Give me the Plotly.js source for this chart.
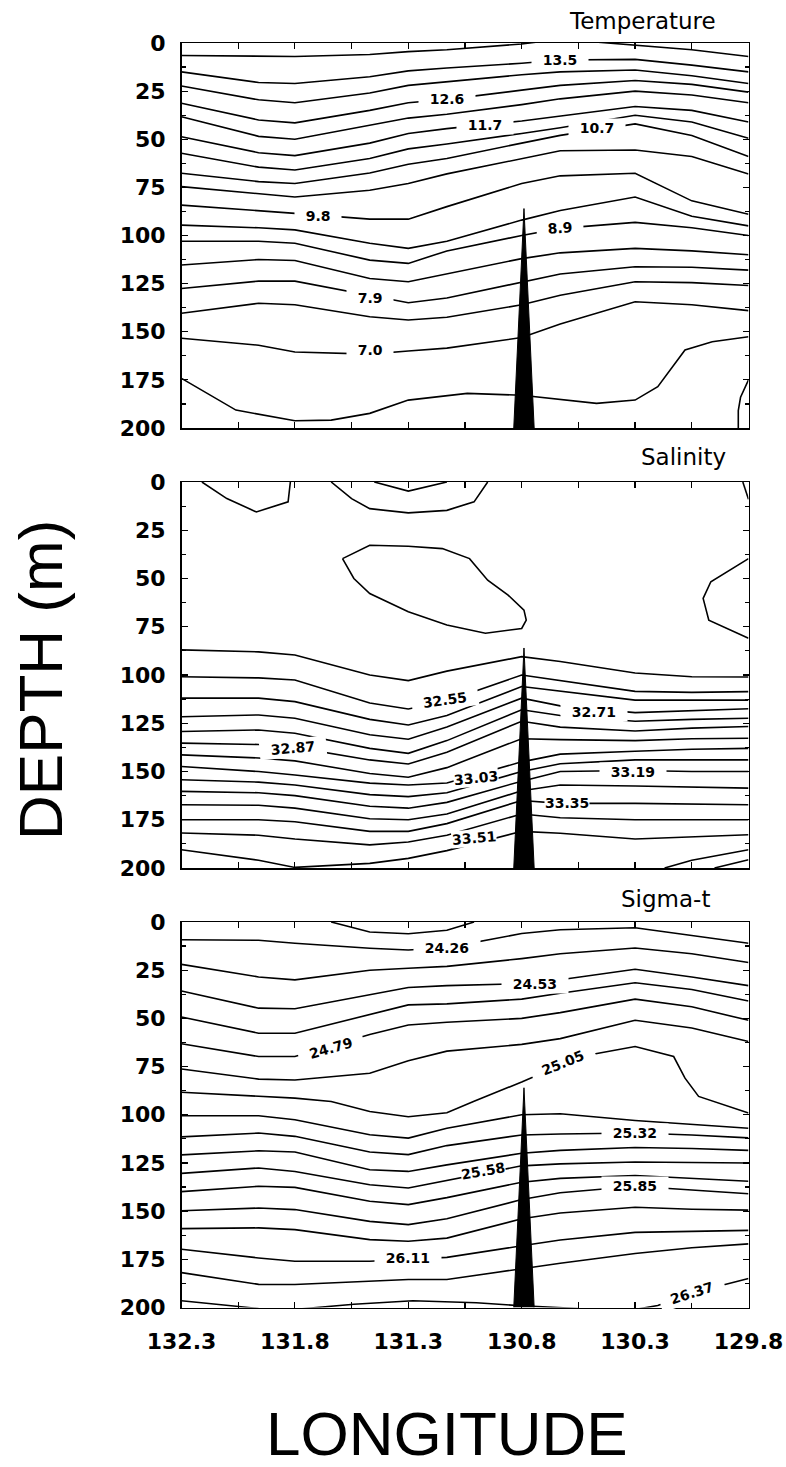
<!DOCTYPE html>
<html><head><meta charset="utf-8">
<script src="https://cdn.plot.ly/plotly-3.0.1.min.js"></script>
<style>html,body{margin:0;padding:0;background:#fff}#chart{width:786px;height:1467px}</style>
</head><body><div id="chart"></div>
<script>
// ---------- station longitudes (x of every contour row) ----------
const stations = [132.3, 131.96, 131.8, 131.47, 131.3, 131.13, 130.8, 130.63, 130.3, 130.05, 129.8];
const lonTicks = [132.3, 131.8, 131.3, 130.8, 130.3, 129.8];
const lonTickText = ['132.3', '131.8', '131.3', '130.8', '130.3', '129.8'];
const depthTicks = [0, 25, 50, 75, 100, 125, 150, 175, 200];

// ---------- Temperature: depth (m) of each isotherm at the stations ----------
const tempRows = [
  [6.5, 7, 7, 6, 4.5, 3.5, 0.5, -2, 1.2, 3.5, 7],
  [15, 20.5, 21, 17.5, 14.5, 13, 10.5, 8.8, 8.5, 11.5, 15],
  [22.3, 29.5, 31, 26, 22, 20, 16.5, 15, 14, 17, 21],
  [31.3, 40, 41.5, 35, 31, 29.3, 24.5, 22, 19.5, 21.5, 25.5],
  [38.3, 48.5, 50, 43, 39, 37, 32, 29, 25, 27, 31],
  [48.7, 57, 58.5, 52, 47, 44.5, 40.5, 38, 33, 35, 41],
  [57.3, 64.5, 66, 60, 55, 52.5, 47, 44, 37.5, 41, 49.5],
  [67.7, 72, 73, 67.5, 63, 60, 52, 48, 42, 48, 59],
  [74.6, 78.5, 80, 76.5, 73, 68, 60, 56, 55.6, 59, 68],
  [84.2, 87, 88.5, 91.5, 91.5, 85, 73, 69, 67.7, 82, 89],
  [94.6, 96, 97.1, 104, 106.7, 103, 92, 87, 80, 90, 95],
  [103, 103, 104, 112.8, 114.5, 108, 100, 96.3, 93.2, 96, 100],
  [115.3, 112.5, 113, 122.3, 124, 120, 112, 109, 106.7, 108, 110],
  [127.5, 123.7, 123.7, 131, 134.9, 132.5, 124, 120, 116.2, 116.5, 118],
  [140.4, 135.2, 136, 142.2, 143.9, 142.5, 136, 131, 124, 124.5, 126],
  [153.4, 157, 160.5, 161.6, 160, 158.5, 153, 146, 134.4, 136, 139]
];
const tempDeepLon = [132.3, 132.06, 131.8, 131.64, 131.47, 131.3, 131.04, 130.8, 130.47, 130.3, 130.2, 130.08, 129.96, 129.8];
const tempDeepDepth = [174.2, 190.7, 196.2, 195.9, 192.4, 185.5, 182, 183, 187.2, 185.5, 178.5, 159.5, 155.2, 152.6];
const tempCornerLon = [129.8, 129.835, 129.845, 129.845];
const tempCornerDepth = [175, 184, 191, 200];
const tempLabelText = ['13.5', '12.6', '11.7', '10.7', '9.8', '8.9', '7.9', '7.0'];
const tempLabelLon = [130.63, 131.13, 130.96, 130.47, 131.7, 130.63, 131.47, 131.47];
const tempLabelDepth = [8.8, 29.3, 42.6, 44.3, 90, 96.3, 132.6, 159.5];
const tempLabelAngle = [0, 0, 0, 0, 0, -4, 0, 0];

// ---------- Salinity ----------
const salTopLeftLon = [132.21, 132.1, 131.97, 131.83, 131.82];
const salTopLeftDepth = [0, 8.6, 15.5, 10.3, 0];
const salTopMidLon = [131.64, 131.55, 131.47, 131.3, 131.13, 131.01, 130.95];
const salTopMidDepth = [0, 8.6, 13.8, 16, 14.7, 10.3, 0];
const salTopInnerLon = [131.45, 131.3, 131.13];
const salTopInnerDepth = [0, 4.7, 0];
const salBlobLon = [131.59, 131.47, 131.3, 131.15, 131.03, 130.95, 130.86, 130.79, 130.78, 130.8, 130.96, 131.13, 131.3, 131.47, 131.54, 131.59];
const salBlobDepth = [39.7, 32.8, 33.3, 34.5, 39.7, 50.9, 58.6, 66.4, 71.6, 75.9, 78.4, 74.1, 67.2, 57.8, 50, 39.7];
const salRightBlobLon = [129.8, 129.966, 130.0, 129.975, 129.8];
const salRightBlobDepth = [39.7, 51.7, 60.3, 71.6, 81.0];
const salCornerLon = [129.825, 129.8];
const salCornerDepth = [0, 9];
const salRows = [
  [87, 88, 89.6, 100, 102.9, 98, 90.5, 93, 99, 100.9, 101],
  [100.9, 101.5, 102.6, 114.5, 117.6, 113.5, 100, 103, 108.5, 109, 108.6],
  [112, 112, 113.8, 123, 125.9, 121, 106, 108.5, 113, 113, 113],
  [121.6, 120.7, 122.4, 131, 133.3, 127, 112, 116, 119.5, 118.5, 117.5],
  [129.3, 128.5, 130.2, 138, 140.6, 134, 118, 121, 124, 123, 122.4],
  [135.3, 136, 137.5, 144, 146.1, 140, 124, 127, 129, 127.5, 126.7],
  [141.4, 143, 144.5, 151, 153, 148, 133, 133.5, 134, 133, 132.8],
  [147.4, 150, 151.8, 156, 157, 156, 145, 141, 139.5, 138.5, 138],
  [154.3, 155.5, 157, 162, 163, 161, 150, 146, 144, 144, 144],
  [160.3, 161, 162.5, 168, 169, 166, 155, 150, 149.5, 150, 150],
  [167.2, 167.5, 169, 174.5, 175, 172, 160, 157, 157.5, 158, 158.6],
  [175, 175, 176, 181, 181, 177, 165, 166.5, 166.5, 166.7, 167.2],
  [181.9, 183, 185, 188, 186.5, 183, 172, 174, 175, 175, 175],
  [190.5, 196, 199.7, 197.6, 195, 191, 181, 182, 185, 184, 182.8]
];
const salDeep1Lon = [130.17, 130.05, 129.8];
const salDeep1Depth = [200, 196, 190.5];
const salDeep2Lon = [129.95, 129.8];
const salDeep2Depth = [200, 195.7];
const salLabelText = ['32.55', '32.71', '32.87', '33.03', '33.19', '33.35', '33.51'];
const salLabelLon = [131.14, 130.48, 131.81, 131.0, 130.31, 130.6, 131.01];
const salLabelDepth = [113, 119, 138, 153.5, 150, 166.5, 184.6];
const salLabelAngle = [-8, 0, -5, -6, 0, 0, -5];
const salLabelPadded = [true, true, true, false, true, false, false];

// ---------- Sigma-t ----------
const sigTopLon = [131.64, 131.47, 131.3, 131.13, 131.01];
const sigTopDepth = [0, 5.2, 6.1, 4.3, 0];
const sigRows = [
  [9.2, 9.5, 11, 13.6, 14.5, 13.3, 6, 4, 3, 7, 11],
  [22, 28.5, 30, 25, 24, 23, 19, 16.5, 13.5, 16.5, 21],
  [35.8, 44.7, 45, 38, 34, 33, 32, 30, 24.5, 28.5, 33],
  [49.3, 57.7, 57.7, 48.2, 43, 42.5, 40, 37, 31.5, 35, 41],
  [63.2, 69.8, 69.8, 58.4, 53.4, 52, 50, 47, 40, 44, 51],
  [76.3, 81.5, 82, 78.5, 72, 67, 63.5, 60.5, 51, 55, 62]
];
const sigHumpLon = [132.3, 131.96, 131.8, 131.64, 131.47, 131.3, 131.13, 131.01, 130.8, 130.54, 130.3, 130.13, 130.08, 130.02, 129.8];
const sigHumpDepth = [88.3, 90.5, 91.4, 93.1, 98.3, 101, 99, 93, 83, 69.8, 64.6, 69.8, 81, 90.5, 99.1];
const sigRowsDeep = [
  [100.5, 100.5, 102.6, 110.4, 112.1, 107, 100, 99.5, 103, 105, 107],
  [111.5, 109.5, 111.2, 119.3, 120.7, 116, 110.5, 110, 109.5, 110.5, 112],
  [120.8, 118.7, 119.3, 128.5, 129.4, 126, 120, 118.5, 117, 117.5, 118.5],
  [130.4, 127.6, 129.4, 136.3, 138, 134, 126.5, 125.5, 124.5, 124.8, 125],
  [139.9, 137.1, 137.7, 144.9, 146.6, 143, 135, 133, 131.5, 133, 134.5],
  [149.8, 148.4, 149.2, 155.3, 157, 154, 144, 140.5, 137.1, 139, 141],
  [159.1, 158.7, 159.6, 164.8, 165.6, 164, 154, 151, 148, 149, 149.5],
  [169.8, 174.3, 176, 176, 175, 174, 168, 165, 161, 160.5, 160],
  [181.9, 188, 188.1, 186.4, 185.5, 185.5, 180, 177, 172, 169, 167]
];
const sigBottomLon = [132.3, 132.1, 131.96, 131.8, 131.54, 131.28, 131.0, 130.82, 130.55, 130.3, 130.2, 130.05, 129.8];
const sigBottomDepth = [196.5, 199, 200.5, 201, 198.3, 196.5, 197.5, 199, 200.5, 201, 199, 192.5, 185];
const sigLabelText = ['24.26', '24.53', '24.79', '25.05', '25.32', '25.58', '25.85', '26.11', '26.37'];
const sigLabelLon = [131.13, 130.74, 131.64, 130.62, 130.3, 130.97, 130.3, 131.3, 130.05];
const sigLabelDepth = [13.3, 32, 65.5, 73.2, 109.5, 129, 137.1, 174.3, 192.5];
const sigLabelAngle = [0, 0, -16, -22, 0, -10, 0, 0, -18];
const sigLabelPadded = [true, true, true, true, true, false, true, true, true];

// ---------- seamount (black wedge) ----------
const seamountLon = [130.835, 130.79, 130.745];
const seamountDepth = [200, 86, 200];

const panelTitles = ['Temperature', 'Salinity', 'Sigma-t'];

// ---------- build traces ----------
const traces = [];
function ax(p, k) { return p === 1 ? k : k + p; }
function line(xs, ys, p) {
  traces.push({type: 'scatter', mode: 'lines', x: xs, y: ys,
    xaxis: ax(p, 'x'), yaxis: ax(p, 'y'),
    line: {color: '#000', width: 1.6}, hoverinfo: 'skip', showlegend: false});
}
tempRows.forEach(r => line(stations, r, 1));
line(tempDeepLon, tempDeepDepth, 1);
line(tempCornerLon, tempCornerDepth, 1);

line(salTopLeftLon, salTopLeftDepth, 2);
line(salTopMidLon, salTopMidDepth, 2);
line(salTopInnerLon, salTopInnerDepth, 2);
line(salBlobLon, salBlobDepth, 2);
line(salRightBlobLon, salRightBlobDepth, 2);
line(salCornerLon, salCornerDepth, 2);
salRows.forEach(r => line(stations, r, 2));
line(salDeep1Lon, salDeep1Depth, 2);
line(salDeep2Lon, salDeep2Depth, 2);

line(sigTopLon, sigTopDepth, 3);
sigRows.forEach(r => line(stations, r, 3));
line(sigHumpLon, sigHumpDepth, 3);
sigRowsDeep.forEach(r => line(stations, r, 3));
line(sigBottomLon, sigBottomDepth, 3);

[1, 2, 3].forEach(p => {
  traces.push({type: 'scatter', mode: 'lines', x: seamountLon, y: seamountDepth,
    xaxis: ax(p, 'x'), yaxis: ax(p, 'y'),
    fill: 'toself', fillcolor: '#000', line: {color: '#000', width: 1},
    hoverinfo: 'skip', showlegend: false});
});

// ---------- annotations ----------
const annotations = [];
const pad = '\u00a0\u00a0';
function labels(texts, xs, ys, angles, padded, p) {
  texts.forEach((t, i) => annotations.push({
    text: padded[i] ? pad + t + pad : t, x: xs[i], y: ys[i], xref: ax(p, 'x'), yref: ax(p, 'y'),
    showarrow: false, textangle: angles[i], bgcolor: '#fff', borderpad: padded[i] ? 1 : 0,
    font: {family: 'DejaVu Sans', size: 14, color: '#000', weight: 'bold'}
  }));
}
labels(tempLabelText, tempLabelLon, tempLabelDepth, tempLabelAngle, tempLabelText.map(() => true), 1);
labels(salLabelText, salLabelLon, salLabelDepth, salLabelAngle, salLabelPadded, 2);
labels(sigLabelText, sigLabelLon, sigLabelDepth, sigLabelAngle, sigLabelPadded, 3);

const W = 786, H = 1467;
const titlePos = [[718, 21], [728, 457], [712, 899]];
panelTitles.forEach((t, i) => annotations.push({
  text: t, xref: 'paper', yref: 'paper', x: titlePos[i][0] / W, y: 1 - titlePos[i][1] / H,
  xanchor: 'right', yanchor: 'middle', showarrow: false,
  font: {family: 'DejaVu Sans', size: 23, color: '#000'}
}));
annotations.push({text: 'LONGITUDE', xref: 'paper', yref: 'paper', x: 447 / W, y: 1 - 1433 / H,
  xanchor: 'center', yanchor: 'middle', showarrow: false,
  font: {family: 'Liberation Sans', size: 62, color: '#000'}});
annotations.push({text: 'DEPTH (m)', xref: 'paper', yref: 'paper', x: 40 / W, y: 1 - 680 / H,
  xanchor: 'center', yanchor: 'middle', showarrow: false, textangle: -90,
  font: {family: 'Liberation Sans', size: 62, color: '#000'}});

// ---------- axes ----------
const xDomain = [181.5 / W, 748.5 / W];
const panelPx = [[43, 428], [482, 868], [922, 1307.5]];
function xAxis(anchor, showLabels) {
  return {domain: xDomain, anchor: anchor, range: [132.3, 129.8], tickmode: 'array',
    tickvals: lonTicks, ticktext: lonTickText, showticklabels: showLabels,
    ticks: 'inside', ticklen: 6, tickwidth: 1.2, tickcolor: '#000',
    showline: true, linecolor: '#000', linewidth: 1.5, mirror: 'ticks',
    showgrid: false, zeroline: false, ticklabelstandoff: 14,
    tickfont: {family: 'DejaVu Sans', size: 22, color: '#000', weight: 'bold'},
    minor: {tickmode: 'linear', tick0: 132.3, dtick: 0.25, ticks: 'inside', ticklen: 6,
      tickwidth: 1.2, tickcolor: '#000', showgrid: false},
    fixedrange: true};
}
function yAxis(anchor, i) {
  return {domain: [1 - panelPx[i][1] / H, 1 - panelPx[i][0] / H], anchor: anchor,
    range: [200, 0], tickmode: 'array', tickvals: depthTicks,
    ticks: 'inside', ticklen: 6, tickwidth: 1.2, tickcolor: '#000',
    showline: true, linecolor: '#000', linewidth: 1.5, mirror: 'ticks',
    showgrid: false, zeroline: false, ticklabelstandoff: 10,
    tickfont: {family: 'DejaVu Sans', size: 22, color: '#000', weight: 'bold'},
    minor: {tickmode: 'linear', tick0: 0, dtick: 12.5, ticks: 'inside', ticklen: 4,
      tickwidth: 1.2, tickcolor: '#000', showgrid: false},
    fixedrange: true};
}

const layout = {
  width: W, height: H, margin: {l: 0, r: 0, t: 0, b: 0, autoexpand: false},
  paper_bgcolor: '#fff', plot_bgcolor: '#fff', showlegend: false,
  xaxis: xAxis('y', false), yaxis: yAxis('x', 0),
  xaxis2: xAxis('y2', false), yaxis2: yAxis('x2', 1),
  xaxis3: xAxis('y3', true), yaxis3: yAxis('x3', 2),
  annotations: annotations
};

Plotly.newPlot('chart', traces, layout, {staticPlot: true, displayModeBar: false});
</script>
</body></html>
